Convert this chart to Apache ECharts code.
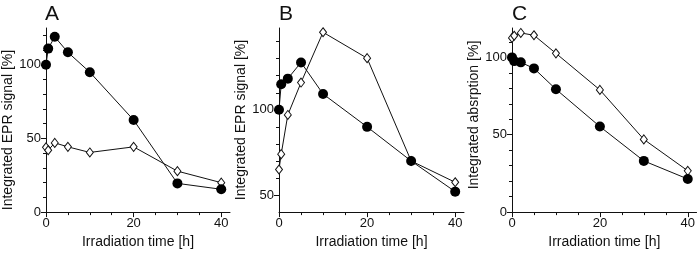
<!DOCTYPE html>
<html>
<head>
<meta charset="utf-8">
<script src="https://cdn.jsdelivr.net/npm/echarts@6/dist/echarts.min.js"></script>
<style>
  html, body { margin: 0; padding: 0; background: #fff; }
  #chart { width: 698px; height: 254px; }
</style>
</head>
<body>
<div id="chart"></div>
<script>
// irradiation times (h), shared by all three panels
var times = [0, 0.5, 2, 5, 10, 20, 30, 40];

// A: integrated EPR signal
var aFilled = [100, 111, 119, 108.5, 95, 62.5, 19.5, 15.5];
var aOpen = [44, 42, 47, 44.3, 40.5, 44.3, 27.8, 20];
// B: integrated EPR signal
var bFilled = [100, 115, 118.3, 127.8, 109.3, 90, 70, 52];
var bOpen = [65, 74, 97, 116, 145.5, 130.3, 70, 57.5];
// C: integrated absorption
var cFilled = [100, 97.6, 96.8, 92.9, 79.4, 55.3, 33.1, 21.4];
var cOpen = [112.6, 114, 115.8, 114.3, 102.6, 79, 47, 26.7];

// tick labels
var xLabels = [0, 20, 40];
var xMinor = [5, 10, 15, 25, 30, 35];
var aLabels = [0, 50, 100];
var aMinor = [10, 20, 30, 40, 60, 70, 80, 90, 110, 120];
var bLabels = [50, 100];
var bMinor = [60, 70, 80, 90, 110, 120, 130, 140];
var cLabels = [0, 50, 100];
var cMinor = [10, 20, 30, 40, 60, 70, 80, 90, 110];

var font = 'Liberation Sans';
var ink = '#111';

var panels = [
  { letter: 'A', left: 45, ymin: 0, ymax: 125, yname: 'Integrated EPR signal [%]', ylab: aLabels, yminor: aMinor, filled: aFilled, open: aOpen, pad: [0, 20, 0, 0] },
  { letter: 'B', left: 279, ymin: 40, ymax: 148, yname: 'Integrated EPR signal [%]', ylab: bLabels, yminor: bMinor, filled: bFilled, open: bOpen, pad: [0, 0, 0, 0] },
  { letter: 'C', left: 512, ymin: 0, ymax: 119, yname: 'Integrated absrption [%]', ylab: cLabels, yminor: cMinor, filled: cFilled, open: cOpen, pad: [0, 0, 0, 10] }
];

function pairs(ys) {
  return times.map(function (t, i) { return [t, ys[i]]; });
}

var grid = [], xAxis = [], yAxis = [], series = [], title = [];
panels.forEach(function (p, i) {
  grid.push({ left: p.left, top: 28, width: 185, height: 184.7 });
  title.push({ text: p.letter, left: p.left, top: 4, padding: 0, textStyle: { fontFamily: font, fontSize: 21, fontWeight: 'normal', color: ink } });
  var line = { show: true, lineStyle: { color: ink, width: 1 } };
  // main x axis: line, minor ticks, labels, name
  xAxis.push({
    type: 'value', gridIndex: i, position: 'bottom', min: 0, max: 42,
    axisLine: line, splitLine: { show: false },
    axisTick: { show: true, length: 3, customValues: xMinor, lineStyle: { color: ink } },
    axisLabel: { customValues: xLabels, margin: 5, fontFamily: font, fontSize: 13, color: ink },
    name: 'Irradiation time [h]', nameLocation: 'middle', nameGap: 17,
    nameTextStyle: { fontFamily: font, fontSize: 14, color: ink }
  });
  // overlay x axis: longer major ticks
  xAxis.push({
    type: 'value', gridIndex: i, position: 'bottom', min: 0, max: 42,
    axisLine: { show: false }, splitLine: { show: false }, axisLabel: { show: false },
    axisTick: { show: true, length: 5, customValues: xLabels, lineStyle: { color: ink } }
  });
  yAxis.push({
    type: 'value', gridIndex: i, position: 'left', min: p.ymin, max: p.ymax,
    axisLine: line, splitLine: { show: false },
    axisTick: { show: true, length: 3, customValues: p.yminor, lineStyle: { color: ink } },
    axisLabel: { customValues: p.ylab, margin: 5, fontFamily: font, fontSize: 13, color: ink },
    name: p.yname, nameLocation: 'middle', nameGap: 31,
    nameTextStyle: { fontFamily: font, fontSize: 14, color: ink, padding: p.pad }
  });
  yAxis.push({
    type: 'value', gridIndex: i, position: 'left', min: p.ymin, max: p.ymax,
    axisLine: { show: false }, splitLine: { show: false }, axisLabel: { show: false },
    axisTick: { show: true, length: 5, customValues: p.ylab, lineStyle: { color: ink } }
  });
  series.push({
    type: 'line', xAxisIndex: 2 * i, yAxisIndex: 2 * i, data: pairs(p.open),
    symbol: 'diamond', symbolSize: [7, 9], showAllSymbol: true,
    lineStyle: { color: ink, width: 1 },
    itemStyle: { color: '#fff', borderColor: ink, borderWidth: 1 },
    animation: false, silent: true
  });
  series.push({
    type: 'line', xAxisIndex: 2 * i, yAxisIndex: 2 * i, data: pairs(p.filled),
    symbol: 'circle', symbolSize: 10, showAllSymbol: true,
    lineStyle: { color: ink, width: 1 },
    itemStyle: { color: '#000', borderColor: '#000', borderWidth: 0 },
    animation: false, silent: true
  });
});

var chart = echarts.init(document.getElementById('chart'), null, { renderer: 'canvas' });
chart.setOption({
  animation: false,
  backgroundColor: '#fff',
  title: title,
  grid: grid,
  xAxis: xAxis,
  yAxis: yAxis,
  series: series
});
</script>
</body>
</html>
